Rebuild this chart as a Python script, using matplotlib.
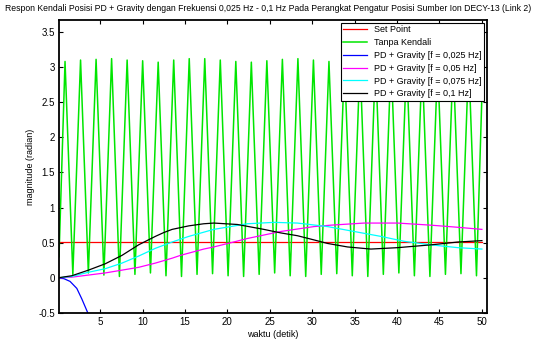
import numpy as np
import matplotlib
matplotlib.use('Agg')
import matplotlib.pyplot as plt
from matplotlib.ticker import FormatStrFormatter

plt.rcParams['font.family'] = ['Liberation Sans', 'DejaVu Sans']

# set point
setpoint_t = [0, 50]
setpoint_y = [0.51, 0.51]

# tanpa kendali: peaks and valleys
peak_t = [0.86, 2.69, 4.52, 6.35, 8.18, 10.01, 11.84, 13.67, 15.5, 17.33,
          19.16, 20.99, 22.82, 24.65, 26.48, 28.31, 30.14, 31.97, 33.8,
          35.63, 37.46, 39.29, 41.12, 42.95, 44.78, 46.61, 48.44]
peak_y = [3.08, 3.10, 3.11, 3.12, 3.10, 3.09, 3.07, 3.10, 3.12, 3.12,
          3.10, 3.08, 3.07, 3.09, 3.11, 3.12, 3.10, 3.08, 3.07, 3.09,
          3.11, 3.12, 3.10, 3.08, 3.07, 3.09, 3.11]
valley_t = [1.78, 3.61, 5.44, 7.27, 9.1, 10.93, 12.76, 14.59, 16.42, 18.25,
            20.08, 21.91, 23.74, 25.57, 27.4, 29.23, 31.06, 32.89, 34.72,
            36.55, 38.38, 40.21, 42.04, 43.87, 45.7, 47.53, 49.36]
valley_y = [0.05, 0.07, 0.04, 0.02, 0.05, 0.07, 0.03, 0.02, 0.05, 0.06,
            0.03, 0.02, 0.05, 0.07, 0.03, 0.02, 0.05, 0.06, 0.03, 0.02,
            0.05, 0.07, 0.03, 0.02, 0.05, 0.06, 0.03]
green_start = (0.15, 0.3)
green_end = (50.0, 2.6)

# PD + gravity responses
f025_t = [0, 0.7, 1.45, 2.25, 2.84, 3.55, 4.0]
f025_y = [0, -0.01, -0.05, -0.15, -0.3, -0.5, -0.65]

f05_t = [0, 1.65, 3.62, 5.59, 7.57, 9.53, 11.5, 13.48, 14.46, 17.21, 18.39,
         20.4, 22.34, 26.28, 30.21, 32.19, 36.12, 40.07, 44.0, 47.16, 50]
f05_y = [0, 0.01, 0.04, 0.07, 0.11, 0.15, 0.21, 0.28, 0.32, 0.41, 0.44,
         0.5, 0.56, 0.66, 0.73, 0.75, 0.78, 0.78, 0.75, 0.72, 0.69]

f075_t = [0, 1.65, 3.62, 5.59, 7.57, 9.53, 11.5, 13.48, 15.44, 17.21, 18.39,
          22.34, 25.48, 28.25, 31.8, 34.94, 38.1, 40.85, 44.0, 47.16, 50]
f075_y = [0, 0.02, 0.08, 0.13, 0.21, 0.31, 0.42, 0.51, 0.59, 0.65, 0.69,
          0.77, 0.79, 0.78, 0.73, 0.66, 0.59, 0.52, 0.47, 0.43, 0.41]

f1_t = [0, 1.65, 3.62, 5.59, 7.57, 9.53, 11.5, 12.5, 13.48, 15.44, 17.21,
        18.39, 21.16, 24.3, 26.28, 28.25, 30.21, 31.8, 34.16, 36.91, 40.07,
        44.0, 47.16, 50]
f1_y = [0, 0.03, 0.11, 0.2, 0.32, 0.47, 0.59, 0.645, 0.69, 0.74, 0.77,
        0.78, 0.76, 0.69, 0.64, 0.6, 0.54, 0.49, 0.44, 0.41, 0.43, 0.47,
        0.51, 0.53]

labels = ['Set Point', 'Tanpa Kendali', 'PD + Gravity [f = 0,025 Hz]',
          'PD + Gravity [f = 0,05 Hz]', 'PD + Gravity [f = 0,075 Hz]',
          'PD + Gravity [f = 0,1 Hz]']

green_t = [green_start[0]]
green_y = [green_start[1]]
for a, b, c, d in zip(peak_t, peak_y, valley_t, valley_y):
    green_t += [a, c]
    green_y += [b, d]
green_t.append(green_end[0])
green_y.append(green_end[1])

fig = plt.figure(figsize=(5.34, 3.4), dpi=100)
ax = fig.add_axes([0.1105, 0.0794, 0.8015, 0.8618])

ax.plot(setpoint_t, setpoint_y, color='#ff0000', lw=0.9, label=labels[0])
ax.plot(green_t, green_y, color='#00e600', lw=1.1, label=labels[1])
ax.plot(f025_t, f025_y, color='#0000ff', lw=0.9, label=labels[2])
ax.plot(f05_t, f05_y, color='#ff00ff', lw=0.9, label=labels[3])
ax.plot(f075_t, f075_y, color='#00ffff', lw=0.9, label=labels[4])
ax.plot(f1_t, f1_y, color='#000000', lw=0.9, label=labels[5])

ax.set_xlim(0.15, 50.6)
ax.set_ylim(-0.5, 3.67)
ax.set_xticks(np.arange(5, 51, 5))
ax.set_yticks(np.arange(-0.5, 3.6, 0.5))
ax.yaxis.set_major_formatter(FormatStrFormatter('%g'))
ax.tick_params(direction='in', top=True, right=True, length=3, width=0.8,
               labelsize=7, pad=3)
for s in ax.spines.values():
    s.set_linewidth(1.3)

fig.text(0.503, 0.976,
         'Respon Kendali Posisi PD + Gravity dengan Frekuensi 0,025 Hz - 0,1 Hz '
         'Pada Perangkat Pengatur Posisi Sumber Ion DECY-13 (Link 2)',
         fontsize=6.2, ha='center', va='center')
ax.set_xlabel('waktu (detik)', fontsize=6.5, labelpad=2)
ax.set_ylabel('magnitude (radian)', fontsize=6.5, labelpad=2)

leg = ax.legend(loc='upper right', fontsize=6.5, fancybox=False, framealpha=1,
                edgecolor='black', borderaxespad=0.3, handlelength=2.6,
                labelspacing=0.42, borderpad=0.3)
leg.get_frame().set_linewidth(0.8)

fig.savefig('out.png', dpi=100)
